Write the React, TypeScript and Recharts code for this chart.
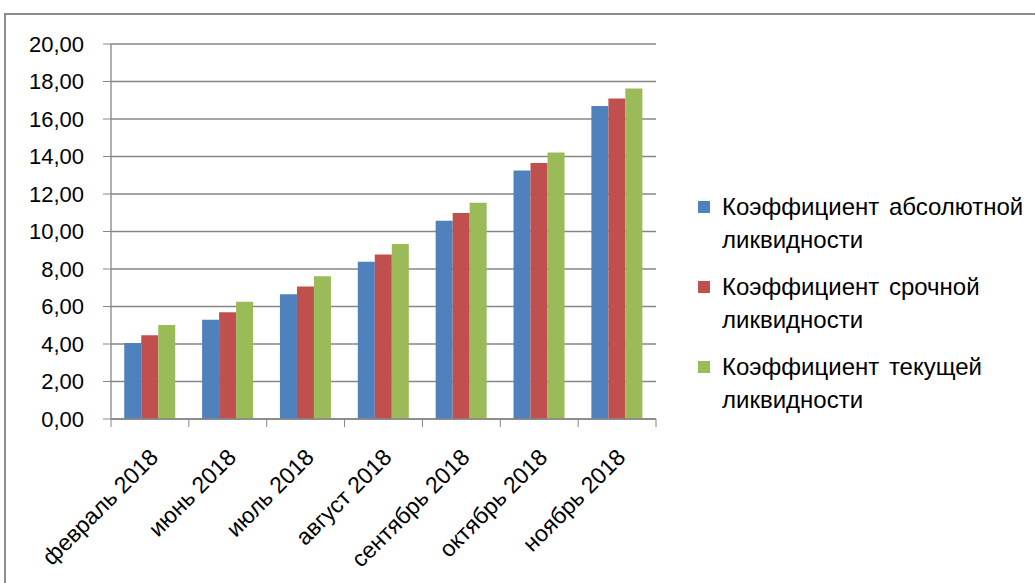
import React from 'react';
import { BarChart, Bar, XAxis, YAxis, CartesianGrid, Legend } from 'recharts';

const categories = ['февраль 2018', 'июнь 2018', 'июль 2018', 'август 2018', 'сентябрь 2018', 'октябрь 2018', 'ноябрь 2018'];
const absoluteLiquidity = [4.06, 5.29, 6.66, 8.39, 10.58, 13.25, 16.69];
const quickLiquidity = [4.47, 5.7, 7.07, 8.78, 10.99, 13.66, 17.1];
const currentLiquidity = [5.02, 6.25, 7.62, 9.33, 11.54, 14.21, 17.63];
const yTicks = [0, 2, 4, 6, 8, 10, 12, 14, 16, 18, 20];
const seriesNames = ['Коэффициент абсолютной ликвидности', 'Коэффициент срочной ликвидности', 'Коэффициент текущей ликвидности'];
const colors = ['#4F81BD', '#C0504D', '#9BBB59'];

const data = categories.map((c, i) => ({
  name: c,
  a: absoluteLiquidity[i],
  q: quickLiquidity[i],
  c: currentLiquidity[i],
}));

const FONT = '"Liberation Sans", Arial, sans-serif';
const AXIS = '#868686';

const fmt = (v: number) => v.toFixed(2).replace('.', ',');

const XTick = (props: any) => {
  const { x, y, payload, index, visibleTicksCount } = props;
  const off = payload.offset || 0;
  const last = index === visibleTicksCount - 1;
  return (
    <g>
      <line x1={x - off} x2={x - off} y1={y - 8} y2={y} stroke={AXIS} strokeWidth={1} />
      {last && <line x1={x + off} x2={x + off} y1={y - 8} y2={y} stroke={AXIS} strokeWidth={1} />}
      <g transform={`translate(${x + 4},${y + 26})`}>
        <text transform="rotate(-45)" textAnchor="end" fontSize={23} fontFamily={FONT} fill="#000" dy={8}>
          {payload.value}
        </text>
      </g>
    </g>
  );
};

const LegendContent = (props: any) => {
  const { payload } = props;
  return (
    <div style={{ fontFamily: FONT, fontSize: 24, color: '#000' }}>
      {payload.map((p: any, i: number) => {
        const words = String(p.value).split(' ');
        const first = words.slice(0, 2).join(' ');
        const rest = words.slice(2).join(' ');
        return (
          <div key={i} style={{ position: 'relative', paddingLeft: 32, lineHeight: '33px', marginBottom: 14 }}>
            <div style={{ position: 'absolute', left: 8, top: 11, width: 12, height: 12, background: p.color }} />
            <div style={{ wordSpacing: 3 }}>{first}</div>
            <div>{rest}</div>
          </div>
        );
      })}
    </div>
  );
};

export default function App() {
  return (
    <div style={{ position: 'absolute', left: 0, top: 0, width: 1035, height: 583, overflow: 'hidden', background: '#fff' }}>
      <div style={{ position: 'absolute', left: 4, top: 13, width: 1100, height: 700, border: '2px solid #8c8c8c', boxSizing: 'border-box' }} />
      <div style={{ position: 'absolute', left: 0, top: 0 }}>
        <BarChart
          width={1035}
          height={583}
          data={data}
          margin={{ top: 44, right: 379, bottom: 0, left: 0 }}
          barCategoryGap="17%"
          barGap={0}
        >
          <CartesianGrid vertical={false} stroke={AXIS} strokeWidth={1.3} />
          <XAxis
            dataKey="name"
            height={164}
            interval={0}
            tick={<XTick />}
            tickLine={false}
            axisLine={{ stroke: AXIS, strokeWidth: 1.3 }}
          />
          <YAxis
            width={111}
            domain={[0, 20]}
            ticks={yTicks}
            interval={0}
            tickFormatter={fmt}
            tickSize={8}
            tickMargin={19}
            tickLine={{ stroke: AXIS }}
            axisLine={{ stroke: AXIS, strokeWidth: 1.3 }}
            tick={{ fontSize: 22, fontFamily: FONT, fill: '#000' }}
          />
          <Legend
            layout="horizontal"
            align="center"
            verticalAlign="middle"
            content={<LegendContent />}
            wrapperStyle={{ left: 690, top: 190, width: 345 }}
          />
          <Bar dataKey="a" name={seriesNames[0]} fill={colors[0]} isAnimationActive={false} />
          <Bar dataKey="q" name={seriesNames[1]} fill={colors[1]} isAnimationActive={false} />
          <Bar dataKey="c" name={seriesNames[2]} fill={colors[2]} isAnimationActive={false} />
        </BarChart>
      </div>
    </div>
  );
}
